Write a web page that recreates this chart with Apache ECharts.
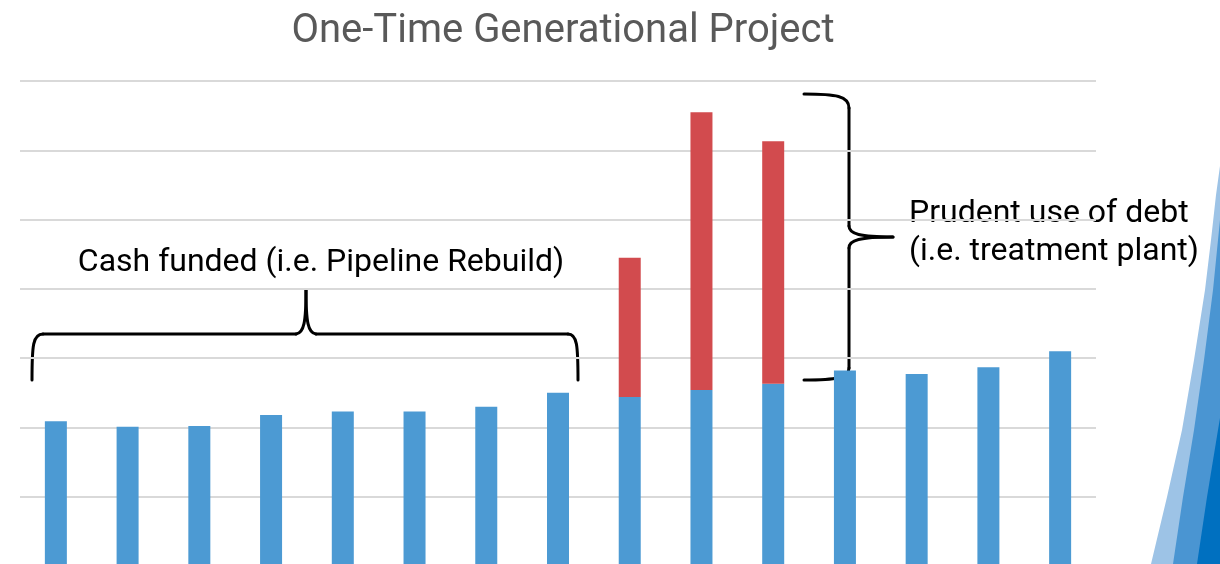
<!DOCTYPE html>
<html>
<head>
<meta charset="utf-8">
<title>One-Time Generational Project</title>
<script src="https://cdn.jsdelivr.net/npm/echarts/dist/echarts.min.js"></script>
<style>
  html, body { margin: 0; padding: 0; background: #fff; }
  #chartBar { width: 1220px; height: 564px; }
</style>
</head>
<body>
<div id="chartBar"></div>
<script>
// categories (axis labels are not shown in the picture)
const categories = ['Y1', 'Y2', 'Y3', 'Y4', 'Y5', 'Y6', 'Y7', 'Y8', 'Y9', 'Y10', 'Y11', 'Y12', 'Y13', 'Y14', 'Y15']
// cash funded part (blue)
const cashFunded = [20.9, 20.1, 20.2, 21.8, 22.3, 22.3, 23.0, 25.0, 24.4, 25.4, 26.3, 28.2, 27.7, 28.7, 31.0]
// debt funded part (red), only for the treatment plant years
const debtFunded = ['-', '-', '-', '-', '-', '-', '-', '-', 20.1, 40.1, 35.0, '-', '-', '-', '-']
// gridline step and top of the value axis
const yStep = 10
const yMax = 70

const titleText = 'One-Time Generational Project'
const leftNote = 'Cash funded (i.e. Pipeline Rebuild)'
const rightNote = 'Prudent use of debt\n(i.e. treatment plant)'

const charts = echarts.init(document.getElementById('chartBar'))

const braceStyle = { stroke: '#000', lineWidth: 3, fill: null, lineCap: 'round' }

// horizontal brace over the cash funded bars
const leftBrace = [
  { type: 'bezierCurve', shape: { x1: 32, y1: 380, cpx1: 32, cpy1: 345, cpx2: 33, cpy2: 334, x2: 43, y2: 334 } },
  { type: 'line', shape: { x1: 43, y1: 334, x2: 296, y2: 334 } },
  { type: 'bezierCurve', shape: { x1: 296, y1: 334, cpx1: 304, cpy1: 333, cpx2: 306, cpy2: 322, x2: 306, y2: 290 } },
  { type: 'bezierCurve', shape: { x1: 306, y1: 290, cpx1: 306, cpy1: 322, cpx2: 308, cpy2: 333, x2: 316, y2: 334 } },
  { type: 'line', shape: { x1: 316, y1: 334, x2: 568, y2: 334 } },
  { type: 'bezierCurve', shape: { x1: 568, y1: 334, cpx1: 577, cpy1: 334, cpx2: 578, cpy2: 345, x2: 578, y2: 380 } }
]

// vertical brace beside the debt funded bars
const rightBrace = [
  { type: 'bezierCurve', shape: { x1: 804, y1: 94, cpx1: 836, cpy1: 94, cpx2: 849, cpy2: 96, x2: 849, y2: 108 } },
  { type: 'line', shape: { x1: 849, y1: 108, x2: 849, y2: 226 } },
  { type: 'bezierCurve', shape: { x1: 849, y1: 226, cpx1: 849, cpy1: 234, cpx2: 860, cpy2: 237, x2: 893, y2: 237 } },
  { type: 'bezierCurve', shape: { x1: 893, y1: 237, cpx1: 860, cpy1: 237, cpx2: 849, cpy2: 240, x2: 849, y2: 248 } },
  { type: 'line', shape: { x1: 849, y1: 248, x2: 849, y2: 368 } },
  { type: 'bezierCurve', shape: { x1: 849, y1: 368, cpx1: 849, cpy1: 378, cpx2: 836, cpy2: 380, x2: 804, y2: 380 } }
]
for (const item of leftBrace.concat(rightBrace)) {
  item.style = braceStyle
  item.silent = true
}

// slide decoration in the bottom right corner
const swoosh = [
  { type: 'polygon', shape: { points: [[1151, 564], [1167, 497], [1182, 430], [1194, 360], [1205, 290], [1211, 240], [1216, 195], [1220, 166], [1220, 564]] }, style: { fill: '#9dc3e6' } },
  { type: 'polygon', shape: { points: [[1173, 564], [1183, 497], [1194, 430], [1204, 360], [1213, 290], [1220, 220], [1220, 564]] }, style: { fill: '#4a95d2' } },
  { type: 'polygon', shape: { points: [[1197, 564], [1207, 497], [1218, 430], [1220, 418], [1220, 564]] }, style: { fill: '#0070c0' } }
]

const option = {
  animation: false,
  title: {
    text: titleText,
    left: 558,
    top: 7,
    textAlign: 'center',
    textStyle: {
      color: '#595959',
      fontFamily: 'Roboto',
      fontWeight: 'normal',
      fontSize: 40
    }
  },
  grid: {
    left: 20,
    right: 124,
    top: 81,
    height: 485,
    outerBoundsMode: 'none'
  },
  xAxis: {
    type: 'category',
    data: categories,
    axisLine: { show: false },
    axisTick: { show: false },
    axisLabel: { show: false }
  },
  yAxis: {
    type: 'value',
    min: 0,
    max: yMax,
    interval: yStep,
    axisLabel: { show: false },
    axisLine: { show: false },
    axisTick: { show: false },
    splitLine: {
      lineStyle: { color: '#d9d9d9', width: 2 }
    }
  },
  series: [
    {
      name: 'Cash funded',
      type: 'bar',
      stack: 'total',
      barWidth: 22,
      data: cashFunded,
      itemStyle: { color: '#4c9ad3' }
    },
    {
      name: 'Debt funded',
      type: 'bar',
      stack: 'total',
      barWidth: 22,
      data: debtFunded,
      itemStyle: { color: '#d24b4e' }
    }
  ],
  graphic: [
    ...leftBrace,
    ...rightBrace,
    {
      type: 'text',
      x: 321,
      y: 263,
      style: { text: leftNote, fill: '#000', font: '32px Roboto', align: 'center', verticalAlign: 'middle' }
    },
    {
      type: 'text',
      x: 909,
      y: 233,
      style: { text: rightNote, fill: '#000', font: '32px Roboto', lineHeight: 38, verticalAlign: 'middle' }
    },
    ...swoosh
  ]
}

charts.setOption(option)
</script>
</body>
</html>
